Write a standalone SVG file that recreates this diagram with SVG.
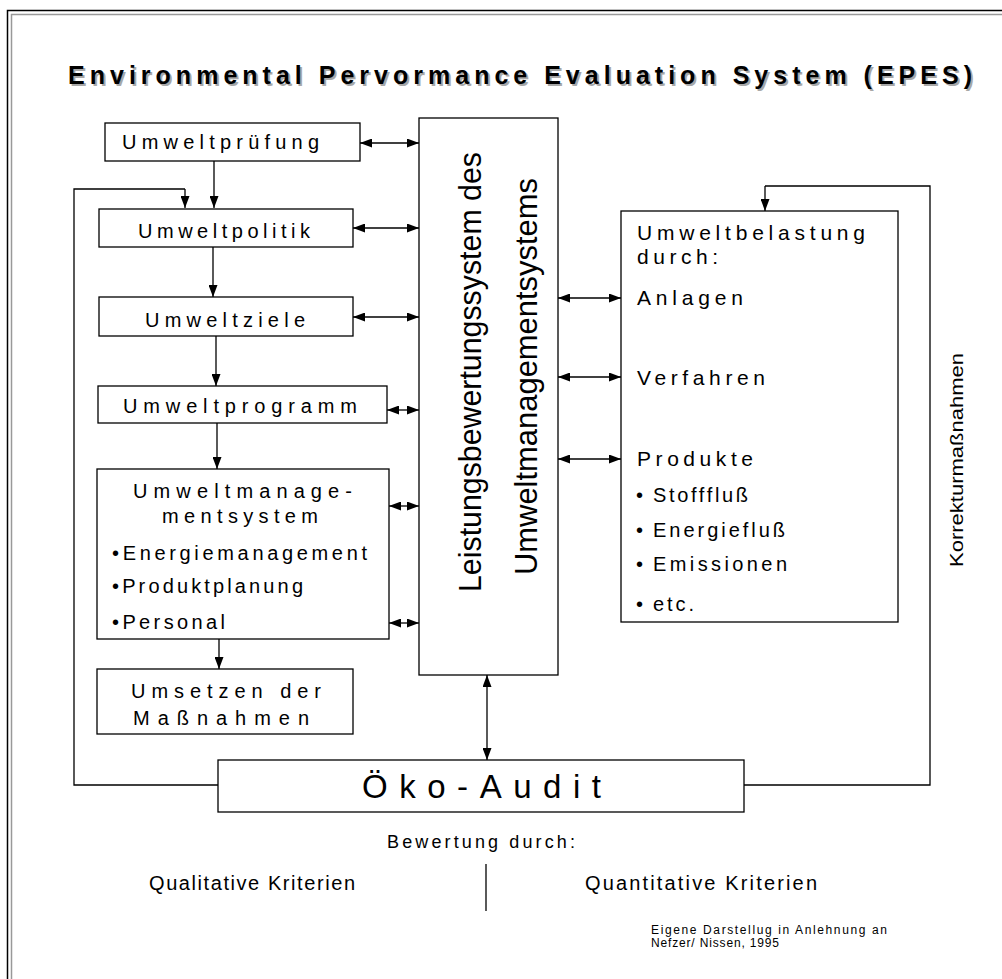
<svg xmlns="http://www.w3.org/2000/svg" width="1002" height="979" viewBox="0 0 1002 979">
  <defs>
    <marker id="head" viewBox="0 0 12 9" refX="12" refY="4.5" markerWidth="12" markerHeight="9" markerUnits="userSpaceOnUse" orient="auto-start-reverse">
      <path d="M0,0 L12,4.5 L0,9 z" fill="#000"/>
    </marker>
  </defs>
  <style>
    .box { fill: #fff; stroke: #000; stroke-width: 1.3; }
    .ln { fill: none; stroke: #000; stroke-width: 1.3; }
    .arr { fill: none; stroke: #000; stroke-width: 1.3; marker-end: url(#head); }
    .arr2 { fill: none; stroke: #000; stroke-width: 1.3; marker-start: url(#head); marker-end: url(#head); }
    text { font-family: "Liberation Sans", Arial, sans-serif; fill: #000; }
    .t19 { font-size: 20px; }
    .t20 { font-size: 21px; }
    .title { font-size: 25px; font-weight: bold; }
  </style>

  <rect width="1002" height="979" fill="#fff"/>

  <!-- page frame: dark outer rule and grey inner rule on top and left -->
  <g id="frame">
    <path d="M7.5,979 V10.5 H1002" fill="none" stroke="#000" stroke-width="1.5"/>
    <path d="M11.5,979 V14.5 H1002" fill="none" stroke="#999" stroke-width="1.5"/>
  </g>

  <!-- heading with soft drop shadow -->
  <g id="title">
    <text class="title" x="70" y="86" textLength="904" lengthAdjust="spacing" style="fill:#a8a8a8">Environmental Pervormance Evaluation System (EPES)</text>
    <text class="title" x="68" y="84" textLength="904" lengthAdjust="spacing">Environmental Pervormance Evaluation System (EPES)</text>
  </g>

  <!-- connectors -->
  <g id="connectors">
    <!-- left chain -->
    <line class="arr" x1="214" y1="161" x2="214" y2="208"/>
    <line class="arr" x1="213" y1="247" x2="213" y2="297"/>
    <line class="arr" x1="216" y1="336" x2="216" y2="386"/>
    <line class="arr" x1="217" y1="423" x2="217" y2="469"/>
    <line class="arr" x1="219" y1="639" x2="219" y2="669"/>
    <!-- left boxes to central evaluation system -->
    <line class="arr2" x1="360" y1="143" x2="419" y2="143"/>
    <line class="arr2" x1="353" y1="228" x2="419" y2="228"/>
    <line class="arr2" x1="353" y1="317" x2="419" y2="317"/>
    <line class="arr2" x1="387" y1="410" x2="419" y2="410"/>
    <line class="arr2" x1="389" y1="506" x2="419" y2="506"/>
    <line class="arr2" x1="389" y1="623" x2="419" y2="623"/>
    <!-- central system to pollution sources -->
    <line class="arr2" x1="558" y1="298" x2="621" y2="298"/>
    <line class="arr2" x1="558" y1="377" x2="621" y2="377"/>
    <line class="arr2" x1="558" y1="459" x2="621" y2="459"/>
    <!-- central system to eco audit -->
    <line class="arr2" x1="487" y1="675" x2="487" y2="760"/>
    <!-- feedback loops from eco audit -->
    <path class="ln" d="M218,785 H74 V189 H185"/>
    <line class="arr" x1="185" y1="189" x2="185" y2="208"/>
    <path class="ln" d="M744,785 H930 V186 H765"/>
    <line class="arr" x1="765" y1="186" x2="765" y2="211"/>
    <!-- divider between criteria -->
    <line class="ln" x1="486" y1="864" x2="486" y2="911"/>
  </g>

  <g id="umweltpruefung">
    <rect class="box" x="105" y="123" width="255" height="38"/>
    <text class="t19" x="122" y="149" textLength="197" lengthAdjust="spacing">Umweltprüfung</text>
  </g>
  <g id="umweltpolitik">
    <rect class="box" x="99" y="209" width="254" height="38"/>
    <text class="t19" x="138" y="238" textLength="172" lengthAdjust="spacing">Umweltpolitik</text>
  </g>
  <g id="umweltziele">
    <rect class="box" x="99" y="297" width="254" height="39"/>
    <text class="t19" x="145" y="327" textLength="160" lengthAdjust="spacing">Umweltziele</text>
  </g>
  <g id="umweltprogramm">
    <rect class="box" x="98" y="386" width="289" height="37"/>
    <text class="t19" x="123" y="413" textLength="234" lengthAdjust="spacing">Umweltprogramm</text>
  </g>
  <g id="umweltmanagementsystem">
    <rect class="box" x="97" y="469" width="292" height="170"/>
    <text class="t19" x="133" y="498" textLength="219" lengthAdjust="spacing">Umweltmanage-</text>
    <text class="t19" x="162" y="523" textLength="156" lengthAdjust="spacing">mentsystem</text>
    <text class="t19" x="112" y="560" textLength="255" lengthAdjust="spacing">•Energiemanagement</text>
    <text class="t19" x="112" y="593" textLength="191" lengthAdjust="spacing">•Produktplanung</text>
    <text class="t19" x="112" y="629" textLength="113" lengthAdjust="spacing">•Personal</text>
  </g>
  <g id="umsetzen">
    <rect class="box" x="97" y="669" width="256" height="65"/>
    <text class="t19" x="131" y="698" textLength="190" lengthAdjust="spacing">Umsetzen der</text>
    <text class="t19" x="133" y="725" textLength="176" lengthAdjust="spacing">Maßnahmen</text>
  </g>

  <g id="leistungsbewertung">
    <rect class="box" x="419" y="118" width="139" height="557"/>
    <text x="481" y="592" font-size="31" textLength="440" lengthAdjust="spacingAndGlyphs" transform="rotate(-90 481 592)">Leistungsbewertungssystem des</text>
    <text x="537" y="575" font-size="31" textLength="397" lengthAdjust="spacingAndGlyphs" transform="rotate(-90 537 575)">Umweltmanagementsystems</text>
  </g>

  <g id="umweltbelastung">
    <rect class="box" x="621" y="211" width="277" height="411"/>
    <text class="t20" x="637" y="240" textLength="228" lengthAdjust="spacing">Umweltbelastung</text>
    <text class="t20" x="637" y="264" textLength="81" lengthAdjust="spacing">durch:</text>
    <text class="t20" x="637" y="305" textLength="106" lengthAdjust="spacing">Anlagen</text>
    <text class="t20" x="637" y="385" textLength="128" lengthAdjust="spacing">Verfahren</text>
    <text class="t20" x="637" y="466" textLength="116" lengthAdjust="spacing">Produkte</text>
    <text class="t19" x="636" y="502">•</text>
    <text class="t19" x="653" y="502" textLength="95" lengthAdjust="spacing">Stofffluß</text>
    <text class="t19" x="636" y="537">•</text>
    <text class="t19" x="653" y="537" textLength="132" lengthAdjust="spacing">Energiefluß</text>
    <text class="t19" x="636" y="571">•</text>
    <text class="t19" x="653" y="571" textLength="134" lengthAdjust="spacing">Emissionen</text>
    <text class="t19" x="636" y="611">•</text>
    <text class="t19" x="653" y="611" textLength="41" lengthAdjust="spacing">etc.</text>
  </g>

  <g id="korrektur">
    <text x="963" y="567" font-size="18" textLength="214" lengthAdjust="spacingAndGlyphs" transform="rotate(-90 963 567)">Korrekturmaßnahmen</text>
  </g>

  <g id="oeko-audit">
    <rect class="box" x="218" y="760" width="526" height="52"/>
    <text x="362" y="798" font-size="33" textLength="239" lengthAdjust="spacing">Öko-Audit</text>
  </g>

  <g id="bewertung">
    <text x="387" y="848" font-size="18" textLength="188" lengthAdjust="spacing">Bewertung durch:</text>
    <text x="149" y="890" font-size="20" textLength="206" lengthAdjust="spacing">Qualitative Kriterien</text>
    <text x="585" y="890" font-size="20" textLength="232" lengthAdjust="spacing">Quantitative Kriterien</text>
  </g>

  <g id="quelle">
    <text x="651" y="934" font-size="12" textLength="236" lengthAdjust="spacing">Eigene Darstellug in Anlehnung an</text>
    <text x="651" y="947" font-size="12" textLength="128" lengthAdjust="spacing">Nefzer/ Nissen, 1995</text>
  </g>
</svg>
